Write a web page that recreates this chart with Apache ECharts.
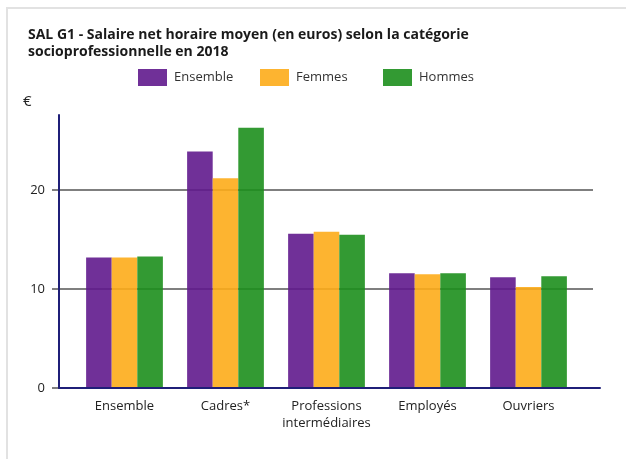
<!DOCTYPE html>
<html>
<head>
<meta charset="utf-8">
<script src="https://cdn.jsdelivr.net/npm/echarts@6/dist/echarts.min.js"></script>
<style>
  html, body { margin: 0; padding: 0; background: #fff; }
  .frame {
    position: absolute; left: 6px; top: 7px; width: 640px; height: 480px;
    border-left: 2px solid #e2e2e2; border-top: 2px solid #e2e2e2;
  }
  #chart { position: absolute; left: 0; top: 0; width: 626px; height: 459px; }
</style>
</head>
<body>
<div class="frame"></div>
<div id="chart"></div>
<script>
const categories = ['Ensemble', 'Cadres*', 'Professions\nintermédiaires', 'Employés', 'Ouvriers']
const seriesNames = ['Ensemble', 'Femmes', 'Hommes']
const ensemble = [13.2, 23.9, 15.6, 11.6, 11.2]
const femmes = [13.2, 21.2, 15.8, 11.5, 10.2]
const hommes = [13.3, 26.3, 15.5, 11.6, 11.3]
const yMax = 27.6
const yInterval = 10

const colors = ['#60198d', '#fdac1a', '#1d8f1d']
const font = '"Open Sans", "Noto Sans", sans-serif'
const navy = '#1f1f78'
const gridGray = '#7f7f7f'
const legendLefts = [138, 260, 383]

const chart = echarts.init(document.getElementById('chart'))

// grille commune
const plotTop = 115
const plotBottom = 71

const option = {
  animation: false,
  textStyle: { fontFamily: font },
  title: {
    text: 'SAL G1 - Salaire net horaire moyen (en euros) selon la catégorie\nsocioprofessionnelle en 2018',
    left: 23,
    top: 22,
    textStyle: { fontSize: 14, fontWeight: 'bold', color: '#1a1a1a', lineHeight: 17, fontFamily: font }
  },
  // une légende par série pour garder l'espacement fixe
  legend: seriesNames.map((name, i) => ({
    data: [name],
    left: legendLefts[i],
    top: 69,
    padding: 0,
    icon: 'rect',
    itemWidth: 29,
    itemHeight: 17,
    textStyle: { fontSize: 13, color: '#333', fontFamily: font, padding: [0, 0, 0, 2] }
  })),
  graphic: [
    { type: 'text', left: 23, top: 94, style: { text: '€', fontSize: 15, fill: '#222', fontFamily: font } }
  ],
  grid: [
    { left: 59, right: 26, top: plotTop, bottom: plotBottom },
    { left: 52, right: 33, top: plotTop, bottom: plotBottom },
    { left: 74, right: 47, top: plotTop, bottom: plotBottom }
  ],
  xAxis: [
    {
      gridIndex: 0, type: 'value', min: 0, max: 1, z: 5,
      axisLine: { show: true, lineStyle: { color: navy, width: 2 } },
      axisTick: { show: false }, axisLabel: { show: false }, splitLine: { show: false }
    },
    {
      gridIndex: 1, type: 'value', min: 0, max: 1, show: false
    },
    {
      gridIndex: 2, type: 'category', data: categories,
      axisLine: { show: false }, axisTick: { show: false },
      axisLabel: { color: '#222', fontSize: 13, lineHeight: 17, margin: 10, fontFamily: font, interval: 0 }
    }
  ],
  yAxis: [
    {
      gridIndex: 0, type: 'value', min: 0, max: yMax, interval: yInterval, z: 5,
      axisLine: { show: true, lineStyle: { color: navy, width: 2 } },
      axisTick: { show: false },
      splitLine: { show: false },
      axisLabel: {
        color: '#222', fontSize: 13, margin: 14, fontFamily: font,
        formatter: v => (v % yInterval === 0 ? String(v) : '')
      }
    },
    {
      gridIndex: 1, type: 'value', min: 0, max: yMax, interval: yInterval,
      axisLine: { show: false }, axisTick: { show: false }, axisLabel: { show: false },
      splitLine: { show: true, lineStyle: { color: [gridGray, gridGray, gridGray, 'rgba(0,0,0,0)'], width: 2 } }
    },
    {
      gridIndex: 2, type: 'value', min: 0, max: yMax, show: false
    }
  ],
  series: [ensemble, femmes, hommes].map((data, i) => ({
    name: seriesNames[i],
    type: 'bar',
    xAxisIndex: 2,
    yAxisIndex: 2,
    data,
    barGap: '0%',
    barCategoryGap: '24%',
    itemStyle: { color: colors[i], opacity: 0.9 }
  }))
}

chart.setOption(option)
</script>
</body>
</html>
